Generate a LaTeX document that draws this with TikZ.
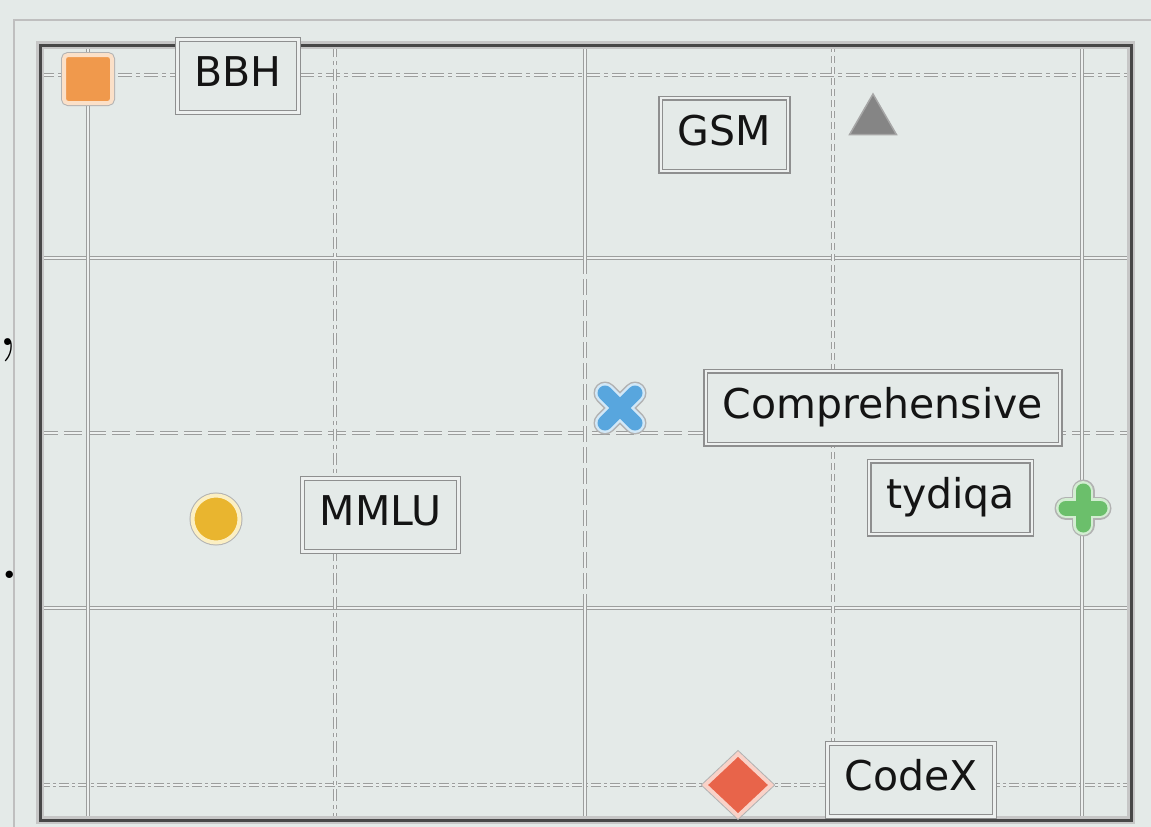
\documentclass[tikz,border=0pt]{standalone}
\usepackage{fontspec}
\newfontfamily\lbl{DejaVu Sans}
\usetikzlibrary{shapes.geometric}
\definecolor{bgc}{HTML}{E4EAE8}
\definecolor{gridout}{HTML}{9C9E9D}
\definecolor{gridin}{HTML}{EDF0EF}
\definecolor{boxout}{HTML}{8E8F8F}
\definecolor{cOrange}{HTML}{F0994C}
\definecolor{hOrange}{HTML}{FBE0C8}
\definecolor{cBlue}{HTML}{58A6DE}
\definecolor{hBlue}{HTML}{D2E8F7}
\definecolor{cGreen}{HTML}{6BBF6B}
\definecolor{hGreen}{HTML}{D3EDD2}
\definecolor{cYellow}{HTML}{E9B52F}
\definecolor{hYellow}{HTML}{FBEFC3}
\definecolor{cRed}{HTML}{E8644A}
\definecolor{hRed}{HTML}{F9D2C8}
\definecolor{cGray}{HTML}{858585}
\tikzset{
  gridline/.style={draw=gridout, line width=1pt, double=gridin, double distance=1.6pt},
  labelbox/.style={draw=boxout, double=gridin, double distance=2.6pt, line width=1.2pt,
    fill=bgc, font=\lbl\fontsize{41}{49}\selectfont, text=black!92,
    inner xsep=17pt, inner ysep=0pt, minimum height=73pt, text height=30pt, text depth=9pt},
  halo/.style={preaction={draw=gray!60, line width=6pt}, draw=#1, line width=4pt},
  marker/.style={inner sep=0pt, outer sep=0pt},
  fatline/.style={line width=16pt, line cap=round, draw=#1},
}
\begin{document}
\begin{tikzpicture}[x=1pt,y=-1pt]
\useasboundingbox (0,0) rectangle (1151,827);
\fill[bgc] (0,0) rectangle (1151,827);
% outer light frame
\draw[gray!50, line width=2pt] (14,827) -- (14,20) -- (1151,20);
% grid lines
\draw[gridline, dash pattern=on 14pt off 4pt on 4pt off 4pt] (40,75) -- (1130,75);
\draw[gridline] (40,258) -- (1130,258);
\draw[gridline, dash pattern=on 18pt off 6pt] (40,433) -- (1130,433);
\draw[gridline] (40,608) -- (1130,608);
\draw[gridline, dash pattern=on 10pt off 3pt on 3pt off 3pt] (40,785) -- (1130,785);
\draw[gridline] (88,45) -- (88,820);
\draw[gridline, dash pattern=on 12pt off 4pt on 4pt off 4pt] (335,45) -- (335,820);
\draw[gridline] (585,45) -- (585,258);
\draw[gridline, dash pattern=on 16pt off 5pt] (585,258) -- (585,608);
\draw[gridline] (585,608) -- (585,820);
\draw[gridline, dash pattern=on 7pt off 4pt] (833,45) -- (833,820);
\draw[gridline] (1082,45) -- (1082,820);
% axes frame
\draw[black!72, line width=3pt, preaction={draw=gray!45, line width=8pt}] (40,45) rectangle (1131,820);
% cropped glyphs at left edge
\node[anchor=base east, inner sep=0pt, font=\fontsize{84}{84}\selectfont] (comma) at (19,345) {,};
\node[anchor=base east, inner sep=0pt, font=\fontsize{90}{90}\selectfont] (dot) at (21,578) {.};
% markers
\node[marker, rectangle, rounded corners=4pt, minimum size=48pt, fill=cOrange, halo=hOrange] (mBBH) at (88,79) {};
\node[marker, regular polygon, regular polygon sides=3, minimum size=54pt, fill=cGray, draw=gray!70, line width=1.5pt] (mGSM) at (873,121) {};
\node[marker, circle, minimum size=47pt, fill=cYellow, halo=hYellow] (mMMLU) at (216,519) {};
\node[marker, diamond, minimum width=66pt, minimum height=62pt, fill=cRed, halo=hRed] (mCodeX) at (738,785) {};
\coordinate (mComp) at (620,408);
\draw[fatline=gray!60, line width=23pt] ([shift={(-15,-15)}]mComp) -- ([shift={(15,15)}]mComp) ([shift={(-15,15)}]mComp) -- ([shift={(15,-15)}]mComp);
\draw[fatline=hBlue, line width=20pt] ([shift={(-15,-15)}]mComp) -- ([shift={(15,15)}]mComp) ([shift={(-15,15)}]mComp) -- ([shift={(15,-15)}]mComp);
\draw[fatline=cBlue, line width=15pt] ([shift={(-15,-15)}]mComp) -- ([shift={(15,15)}]mComp) ([shift={(-15,15)}]mComp) -- ([shift={(15,-15)}]mComp);
\coordinate (mTy) at (1083,508);
\draw[fatline=gray!60, line width=23pt] ([shift={(0,-17)}]mTy) -- ([shift={(0,17)}]mTy) ([shift={(-17,0)}]mTy) -- ([shift={(17,0)}]mTy);
\draw[fatline=hGreen, line width=20pt] ([shift={(0,-17)}]mTy) -- ([shift={(0,17)}]mTy) ([shift={(-17,0)}]mTy) -- ([shift={(17,0)}]mTy);
\draw[fatline=cGreen, line width=15pt] ([shift={(0,-17)}]mTy) -- ([shift={(0,17)}]mTy) ([shift={(-17,0)}]mTy) -- ([shift={(17,0)}]mTy);
% labels
\node[labelbox] (BBH) at (238,76) {BBH};
\node[labelbox] (GSM) at (724.5,134.5) {GSM};
\node[labelbox] (Comp) at (883,407.5) {Comprehensive};
\node[labelbox] (tydiqa) at (950.5,497.5) {tydiqa};
\node[labelbox] (MMLU) at (380.5,515) {MMLU};
\node[labelbox] (CodeX) at (911,780) {CodeX};
\end{tikzpicture}
\end{document}
